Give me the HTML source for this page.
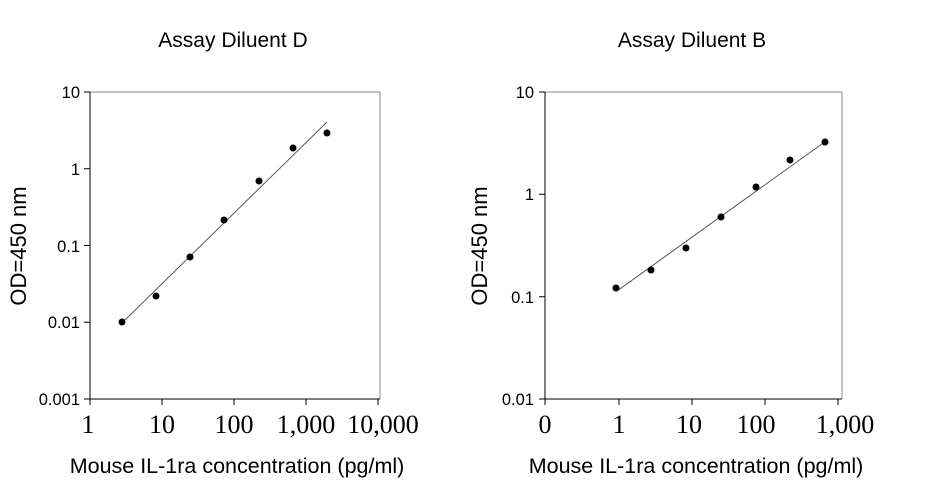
<!DOCTYPE html>
<html><head><style>
body{margin:0;background:#fff;}
svg text{font-family:"Liberation Sans",sans-serif;fill:#000;}
.s{font-family:"Liberation Serif",serif !important;font-size:26px;}
</style></head><body>
<svg width="926" height="480" xmlns="http://www.w3.org/2000/svg">
<g>
<text x="233" y="47" text-anchor="middle" font-size="21">Assay Diluent D</text>
<text x="692" y="47" text-anchor="middle" font-size="21">Assay Diluent B</text>
<text x="237" y="473" text-anchor="middle" font-size="21.5">Mouse IL-1ra concentration (pg/ml)</text>
<text x="696" y="473" text-anchor="middle" font-size="21.5">Mouse IL-1ra concentration (pg/ml)</text>
<text transform="translate(26,246) rotate(-90)" text-anchor="middle" font-size="22">OD=450 nm</text>
<text transform="translate(487,246) rotate(-90)" text-anchor="middle" font-size="22">OD=450 nm</text>
</g>
<!-- left chart -->
<g stroke="#888" fill="none"><path d="M90,92H380V399"/></g>
<g stroke="#000" fill="none">
<path d="M90,92V399H380"/>
<path d="M84,92H90M84,168.7H90M84,245.5H90M84,322.2H90M84,399H90"/>
<path d="M90,399V405M162,399V405M234,399V405M306,399V405M378,399V405"/>
</g>
<g font-size="16.5" text-anchor="end">
<text x="80" y="98">10</text><text x="80" y="175">1</text><text x="80" y="252">0.1</text><text x="80" y="328">0.01</text><text x="80" y="405">0.001</text>
</g>
<g text-anchor="middle">
<text class="s" x="88" y="433">1</text><text class="s" x="162" y="433">10</text><text class="s" x="234" y="433">100</text><text class="s" x="306" y="433">1,000</text><text class="s" x="383" y="433">10,000</text>
</g>
<line x1="125" y1="320" x2="327" y2="122" stroke="#555" stroke-width="1"/>
<g fill="#000">
<circle cx="122" cy="322" r="3.5"/><circle cx="156" cy="296" r="3.5"/><circle cx="190" cy="257" r="3.5"/><circle cx="224" cy="220" r="3.5"/><circle cx="259" cy="181" r="3.5"/><circle cx="293" cy="148" r="3.5"/><circle cx="327" cy="133" r="3.5"/>
</g>
<!-- right chart -->
<g stroke="#888" fill="none"><path d="M545,92H842V399"/></g>
<g stroke="#000" fill="none">
<path d="M545,92V399H842"/>
<path d="M539,92H545M539,194.3H545M539,296.7H545M539,399H545"/>
<path d="M545,399V405M619,399V405M692,399V405M765,399V405M838,399V405"/>
</g>
<g font-size="16.5" text-anchor="end">
<text x="534" y="98">10</text><text x="534" y="200">1</text><text x="534" y="303">0.1</text><text x="534" y="405">0.01</text>
</g>
<g text-anchor="middle">
<text class="s" x="545" y="433">0</text><text class="s" x="619" y="433">1</text><text class="s" x="689" y="433">10</text><text class="s" x="756" y="433">100</text><text class="s" x="845" y="433">1,000</text>
</g>
<line x1="617" y1="291" x2="826" y2="141" stroke="#555" stroke-width="1"/>
<g fill="#000">
<circle cx="616" cy="288" r="3.5"/><circle cx="651" cy="270" r="3.5"/><circle cx="686" cy="248" r="3.5"/><circle cx="721" cy="217" r="3.5"/><circle cx="756" cy="187" r="3.5"/><circle cx="790" cy="160" r="3.5"/><circle cx="825" cy="142" r="3.5"/>
</g>
</svg>
</body></html>
